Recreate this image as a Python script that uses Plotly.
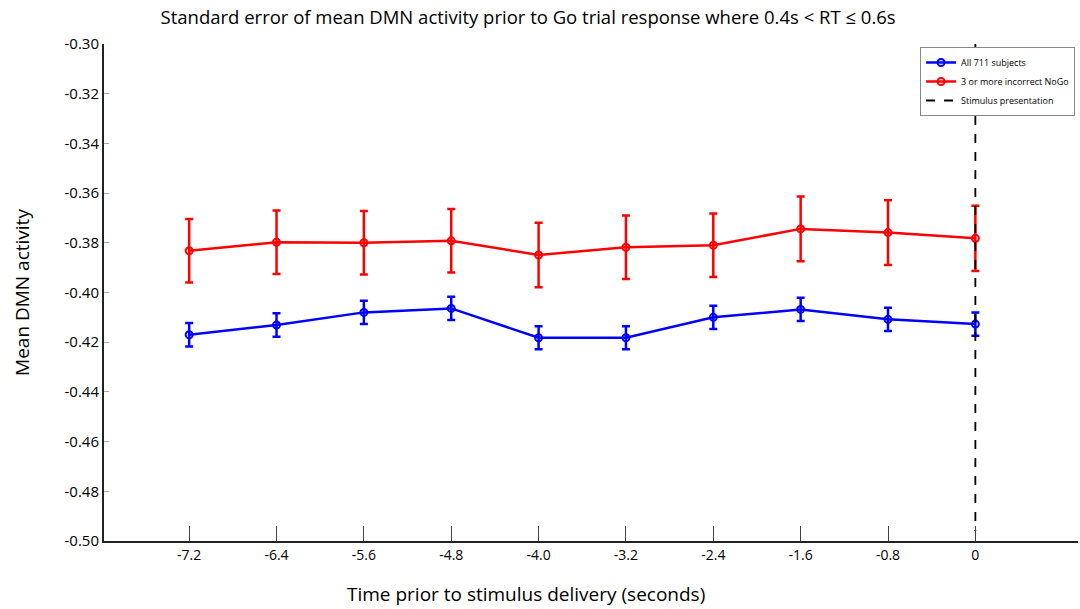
import plotly.graph_objects as go

time_s = [-7.2, -6.4, -5.6, -4.8, -4.0, -3.2, -2.4, -1.6, -0.8, 0.0]
tick_labels = ["-7.2", "-6.4", "-5.6", "-4.8", "-4.0", "-3.2", "-2.4", "-1.6", "-0.8", "0"]

all_mean = [-0.4170, -0.4131, -0.4080, -0.4064, -0.4182, -0.4182, -0.4100, -0.4068, -0.4108, -0.4127]
all_se = [0.0047, 0.0047, 0.0047, 0.0047, 0.0046, 0.0046, 0.0047, 0.0047, 0.0047, 0.0047]

nogo_mean = [-0.3832, -0.3798, -0.3800, -0.3792, -0.3849, -0.3818, -0.3810, -0.3744, -0.3759, -0.3782]
nogo_se = [0.0128, 0.0128, 0.0128, 0.0128, 0.0130, 0.0128, 0.0128, 0.0130, 0.0130, 0.0131]

stim_time = 0.0
y_min, y_max = -0.50, -0.30
y_ticks = [-0.50, -0.48, -0.46, -0.44, -0.42, -0.40, -0.38, -0.36, -0.34, -0.32, -0.30]
y_tick_labels = ["-0.50", "-0.48", "-0.46", "-0.44", "-0.42", "-0.40", "-0.38", "-0.36", "-0.34", "-0.32", "-0.30"]

font_family = "Open Sans, Liberation Sans, sans-serif"

fig = go.Figure()

fig.add_trace(go.Scatter(
    x=time_s, y=all_mean, mode="lines+markers", name="All 711 subjects",
    line=dict(color="#0000ff", width=2.5),
    marker=dict(symbol="circle-open", size=7, color="#0000ff", line=dict(width=2)),
    error_y=dict(type="data", array=all_se, visible=True, color="#0000ff", thickness=2.5, width=4),
))
fig.add_trace(go.Scatter(
    x=time_s, y=nogo_mean, mode="lines+markers", name="3 or more incorrect NoGo",
    line=dict(color="#ff0000", width=2.5),
    marker=dict(symbol="circle-open", size=7, color="#ff0000", line=dict(width=2)),
    error_y=dict(type="data", array=nogo_se, visible=True, color="#ff0000", thickness=2.5, width=4),
))
fig.add_trace(go.Scatter(
    x=[stim_time, stim_time], y=[y_max, y_min + 0.004], mode="lines", name="Stimulus presentation",
    line=dict(color="black", width=1.8, dash="dash"),
))

fig.update_layout(
    width=1080, height=609,
    margin=dict(l=104, r=2, t=44, b=68),
    paper_bgcolor="white", plot_bgcolor="white",
    font=dict(family=font_family, size=13, color="black"),
    title=dict(
        text="Standard error of mean DMN activity prior to Go trial response where 0.4s < RT ≤ 0.6s",
        x=0.489, xanchor="center", y=0.971, yanchor="middle",
        font=dict(family=font_family, size=18.5, color="black"),
    ),
    showlegend=True,
    legend=dict(
        x=0.997, xanchor="right", y=0.994, yanchor="top",
        bgcolor="white", bordercolor="#888888", borderwidth=1,
        font=dict(family=font_family, size=9, color="black"),
        tracegroupgap=0, itemwidth=30,
    ),
    annotations=[dict(
        text="Time prior to stimulus delivery (seconds)",
        xref="paper", yref="paper", x=0.433, y=-0.107, xanchor="center", yanchor="middle",
        showarrow=False, font=dict(family=font_family, size=19, color="black"),
    )],
)

fig.update_xaxes(
    range=[-7.98, 0.94],
    tickmode="array", tickvals=time_s, ticktext=tick_labels,
    ticks="inside", ticklen=15, tickwidth=1, tickcolor="#444444",
    showline=True, linecolor="#222222", linewidth=2,
    showgrid=False, zeroline=False,
    tickfont=dict(size=14),
)
fig.update_yaxes(
    range=[y_min, y_max],
    tickmode="array", tickvals=y_ticks, ticktext=y_tick_labels,
    ticks="inside", ticklen=5, tickwidth=1, tickcolor="#aaaaaa",
    showline=True, linecolor="#222222", linewidth=2,
    showgrid=False, zeroline=False,
    tickfont=dict(size=15),
    title=dict(text="Mean DMN activity", font=dict(size=19), standoff=30),
)

fig.write_html("out.html", config={"displayModeBar": False},
               post_script="document.body.style.margin='0';")
